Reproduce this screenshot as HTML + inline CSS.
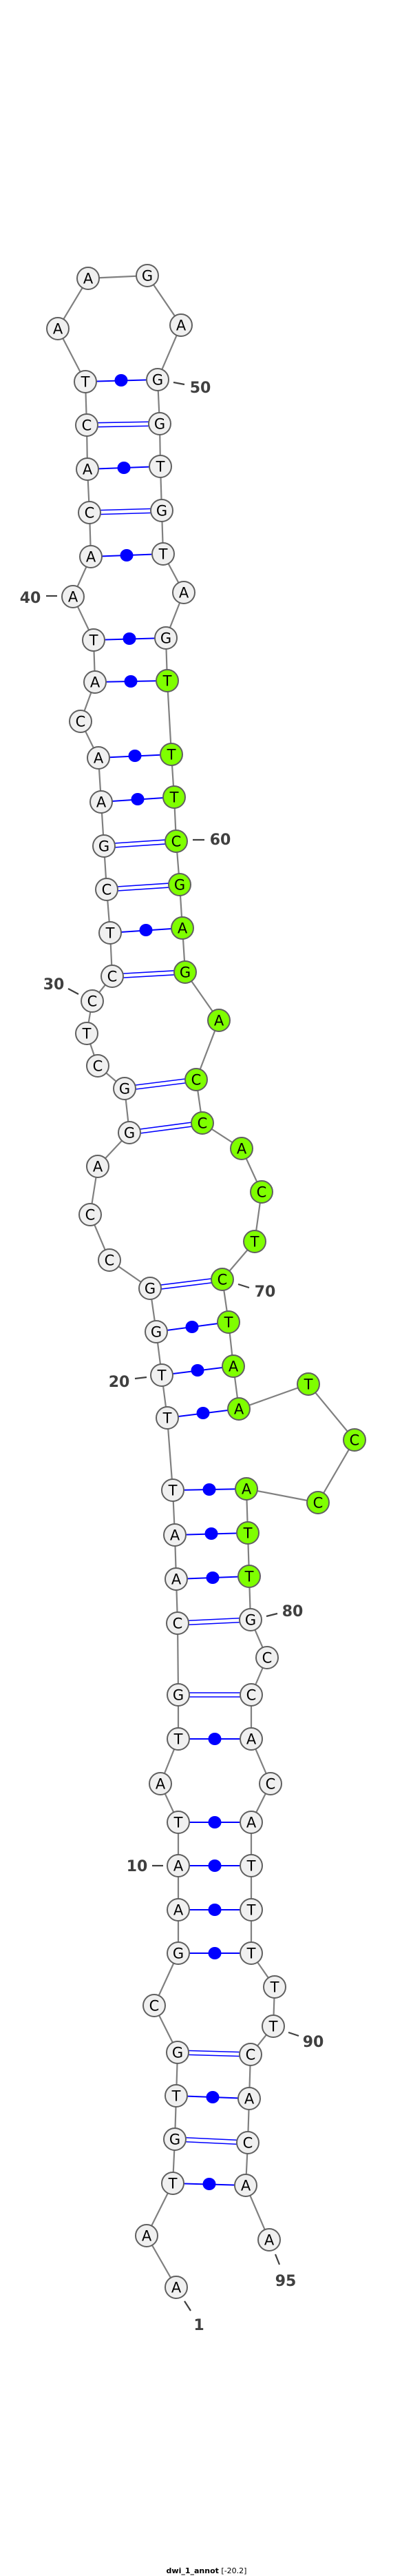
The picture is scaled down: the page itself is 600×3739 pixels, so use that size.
<!DOCTYPE html>
<html><head><meta charset="utf-8"><style>
html,body{margin:0;padding:0;background:#fff}
svg{display:block}
.n text{font-family:"DejaVu Sans","Liberation Sans",sans-serif;font-size:21px;text-anchor:middle}
.lb{font-family:"DejaVu Sans","Liberation Sans",sans-serif;font-size:22px;font-weight:bold;fill:#404040;text-anchor:middle}
</style></head><body>
<svg width="600" height="3739" viewBox="0 0 600 3739" xmlns="http://www.w3.org/2000/svg">
<polyline fill="none" stroke="#808080" stroke-width="2.2" points="256,3320 213,3245 251,3169 254,3105 256,3042 258,2979 224,2911 259,2835 259,2772 259,2708 259,2645 233,2589 259,2524 259,2460 258,2356 256,2292 254,2228 251,2163 243,2058 235,1996 227,1933 218,1870 159,1829 131,1763 142,1693 188,1644 181,1580 142,1547 126,1500 134,1453 163,1417 160,1354 155,1291 151,1228 147,1164 143,1100 117,1047 138,990 136,929 106,866 132,808 130,744 127,681 126,617 124,554 84,477 128,404 214,400 263,472 229,551 232,615 233,677 235,741 237,804 267,860 241,926 243,988 249,1095 253,1157 256,1221 261,1284 265,1347 269,1411 318,1481 285,1567 294,1630 351,1667 380,1730 370,1802 323,1857 332,1919 339,1983 347,2045 448,2009 515,2090 462,2181 358,2161 360,2225 362,2288 364,2351 388,2406 365,2460 365,2524 393,2589 365,2645 365,2708 365,2772 365,2835 399,2884 397,2941 364,2982 362,3046 360,3110 357,3172 391,3251"/>
<g stroke="#0000ff" stroke-width="2">
<line x1="251" y1="3169" x2="357" y2="3172"/><line x1="256" y1="3042" x2="362" y2="3046"/>
<line x1="259" y1="2835" x2="365" y2="2835"/><line x1="259" y1="2772" x2="365" y2="2772"/>
<line x1="259" y1="2708" x2="365" y2="2708"/><line x1="259" y1="2645" x2="365" y2="2645"/>
<line x1="259" y1="2524" x2="365" y2="2524"/><line x1="256" y1="2292" x2="362" y2="2288"/>
<line x1="254" y1="2228" x2="360" y2="2225"/><line x1="251" y1="2163" x2="358" y2="2161"/>
<line x1="243" y1="2058" x2="347" y2="2045"/><line x1="235" y1="1996" x2="339" y2="1983"/>
<line x1="227" y1="1933" x2="332" y2="1919"/><line x1="160" y1="1354" x2="265" y2="1347"/>
<line x1="147" y1="1164" x2="253" y2="1157"/><line x1="143" y1="1100" x2="249" y2="1095"/>
<line x1="138" y1="990" x2="243" y2="988"/><line x1="136" y1="929" x2="241" y2="926"/>
<line x1="132" y1="808" x2="237" y2="804"/><line x1="127" y1="681" x2="233" y2="677"/>
<line x1="124" y1="554" x2="229" y2="551"/>
</g>
<g id="dbl" stroke="#0000ff" stroke-width="1.6" transform="translate(0,-3)">
<line x1="254" y1="3105" x2="360" y2="3110"/><line x1="258" y1="2979" x2="364" y2="2982"/>
<line x1="259" y1="2460" x2="365" y2="2460"/><line x1="258" y1="2356" x2="364" y2="2351"/>
<line x1="218" y1="1870" x2="323" y2="1857"/><line x1="188" y1="1644" x2="294" y2="1630"/>
<line x1="181" y1="1580" x2="285" y2="1567"/><line x1="163" y1="1417" x2="269" y2="1411"/>
<line x1="155" y1="1291" x2="261" y2="1284"/><line x1="151" y1="1228" x2="256" y2="1221"/>
<line x1="130" y1="744" x2="235" y2="741"/><line x1="126" y1="617" x2="232" y2="615"/>
</g>
<use href="#dbl" y="6"/>
<g fill="#0000ff">
<ellipse cx="304" cy="3170" rx="9.5" ry="9"/><ellipse cx="309" cy="3044" rx="9.5" ry="9"/>
<ellipse cx="312" cy="2835" rx="9.5" ry="9"/><ellipse cx="312" cy="2772" rx="9.5" ry="9"/>
<ellipse cx="312" cy="2708" rx="9.5" ry="9"/><ellipse cx="312" cy="2645" rx="9.5" ry="9"/>
<ellipse cx="312" cy="2524" rx="9.5" ry="9"/><ellipse cx="309" cy="2290" rx="9.5" ry="9"/>
<ellipse cx="307" cy="2226" rx="9.5" ry="9"/><ellipse cx="304" cy="2162" rx="9.5" ry="9"/>
<ellipse cx="295" cy="2051" rx="9.5" ry="9"/><ellipse cx="287" cy="1989" rx="9.5" ry="9"/>
<ellipse cx="279" cy="1926" rx="9.5" ry="9"/><ellipse cx="212" cy="1350" rx="9.5" ry="9"/>
<ellipse cx="200" cy="1160" rx="9.5" ry="9"/><ellipse cx="196" cy="1097" rx="9.5" ry="9"/>
<ellipse cx="190" cy="989" rx="9.5" ry="9"/><ellipse cx="188" cy="927" rx="9.5" ry="9"/>
<ellipse cx="184" cy="806" rx="9.5" ry="9"/><ellipse cx="180" cy="679" rx="9.5" ry="9"/>
<ellipse cx="176" cy="552" rx="9.5" ry="9"/>
</g>
<g stroke="#404040" stroke-width="2.2">
<line x1="268" y1="3340" x2="277" y2="3354"/><line x1="400" y1="3272" x2="406" y2="3287"/>
<line x1="419" y1="2950" x2="434" y2="2955"/><line x1="221" y1="2708" x2="237" y2="2708"/>
<line x1="387" y1="2346" x2="403" y2="2342"/><line x1="196" y1="2001" x2="213" y2="1999"/>
<line x1="346" y1="1864" x2="362" y2="1869"/><line x1="99" y1="1435" x2="114" y2="1443"/>
<line x1="280" y1="1219" x2="297" y2="1219"/><line x1="67" y1="865" x2="83" y2="865"/>
<line x1="252" y1="555" x2="268" y2="558"/>
</g>
<g class="lb">
<text x="289" y="3382">1</text><text x="415" y="3318">95</text><text x="455" y="2971">90</text>
<text x="199" y="2716">10</text><text x="425" y="2346">80</text><text x="173" y="2013">20</text>
<text x="385" y="1882">70</text><text x="78" y="1436">30</text><text x="320" y="1226">60</text>
<text x="44" y="875">40</text><text x="291" y="570">50</text>
</g>
<g class="n" stroke="#606060" stroke-width="2">
<g fill="#f0f0f0">
<circle cx="256" cy="3320" r="16"/><circle cx="213" cy="3245" r="16"/><circle cx="251" cy="3169" r="16"/><circle cx="254" cy="3105" r="16"/><circle cx="256" cy="3042" r="16"/><circle cx="258" cy="2979" r="16"/><circle cx="224" cy="2911" r="16"/><circle cx="259" cy="2835" r="16"/><circle cx="259" cy="2772" r="16"/><circle cx="259" cy="2708" r="16"/><circle cx="259" cy="2645" r="16"/><circle cx="233" cy="2589" r="16"/><circle cx="259" cy="2524" r="16"/><circle cx="259" cy="2460" r="16"/><circle cx="258" cy="2356" r="16"/><circle cx="256" cy="2292" r="16"/><circle cx="254" cy="2228" r="16"/><circle cx="251" cy="2163" r="16"/><circle cx="243" cy="2058" r="16"/><circle cx="235" cy="1996" r="16"/><circle cx="227" cy="1933" r="16"/><circle cx="218" cy="1870" r="16"/><circle cx="159" cy="1829" r="16"/><circle cx="131" cy="1763" r="16"/><circle cx="142" cy="1693" r="16"/><circle cx="188" cy="1644" r="16"/><circle cx="181" cy="1580" r="16"/><circle cx="142" cy="1547" r="16"/><circle cx="126" cy="1500" r="16"/><circle cx="134" cy="1453" r="16"/><circle cx="163" cy="1417" r="16"/><circle cx="160" cy="1354" r="16"/><circle cx="155" cy="1291" r="16"/><circle cx="151" cy="1228" r="16"/><circle cx="147" cy="1164" r="16"/><circle cx="143" cy="1100" r="16"/><circle cx="117" cy="1047" r="16"/><circle cx="138" cy="990" r="16"/><circle cx="136" cy="929" r="16"/><circle cx="106" cy="866" r="16"/><circle cx="132" cy="808" r="16"/><circle cx="130" cy="744" r="16"/><circle cx="127" cy="681" r="16"/><circle cx="126" cy="617" r="16"/><circle cx="124" cy="554" r="16"/><circle cx="84" cy="477" r="16"/><circle cx="128" cy="404" r="16"/><circle cx="214" cy="400" r="16"/><circle cx="263" cy="472" r="16"/><circle cx="229" cy="551" r="16"/><circle cx="232" cy="615" r="16"/><circle cx="233" cy="677" r="16"/><circle cx="235" cy="741" r="16"/><circle cx="237" cy="804" r="16"/><circle cx="267" cy="860" r="16"/><circle cx="241" cy="926" r="16"/>
<circle cx="364" cy="2351" r="16"/><circle cx="388" cy="2406" r="16"/><circle cx="365" cy="2460" r="16"/><circle cx="365" cy="2524" r="16"/><circle cx="393" cy="2589" r="16"/><circle cx="365" cy="2645" r="16"/><circle cx="365" cy="2708" r="16"/><circle cx="365" cy="2772" r="16"/><circle cx="365" cy="2835" r="16"/><circle cx="399" cy="2884" r="16"/><circle cx="397" cy="2941" r="16"/><circle cx="364" cy="2982" r="16"/><circle cx="362" cy="3046" r="16"/><circle cx="360" cy="3110" r="16"/><circle cx="357" cy="3172" r="16"/><circle cx="391" cy="3251" r="16"/>
</g>
<g fill="#7fff00">
<circle cx="243" cy="988" r="16"/><circle cx="249" cy="1095" r="16"/><circle cx="253" cy="1157" r="16"/><circle cx="256" cy="1221" r="16"/><circle cx="261" cy="1284" r="16"/><circle cx="265" cy="1347" r="16"/><circle cx="269" cy="1411" r="16"/><circle cx="318" cy="1481" r="16"/><circle cx="285" cy="1567" r="16"/><circle cx="294" cy="1630" r="16"/><circle cx="351" cy="1667" r="16"/><circle cx="380" cy="1730" r="16"/><circle cx="370" cy="1802" r="16"/><circle cx="323" cy="1857" r="16"/><circle cx="332" cy="1919" r="16"/><circle cx="339" cy="1983" r="16"/><circle cx="347" cy="2045" r="16"/><circle cx="448" cy="2009" r="16"/><circle cx="515" cy="2090" r="16"/><circle cx="462" cy="2181" r="16"/><circle cx="358" cy="2161" r="16"/><circle cx="360" cy="2225" r="16"/><circle cx="362" cy="2288" r="16"/>
</g>
<g fill="#000" stroke="none" transform="translate(0,7.5)">
<text x="256" y="3320">A</text><text x="213" y="3245">A</text><text x="251" y="3169">T</text><text x="254" y="3105">G</text><text x="256" y="3042">T</text><text x="258" y="2979">G</text><text x="224" y="2911">C</text><text x="259" y="2835">G</text><text x="259" y="2772">A</text><text x="259" y="2708">A</text><text x="259" y="2645">T</text><text x="233" y="2589">A</text><text x="259" y="2524">T</text><text x="259" y="2460">G</text><text x="258" y="2356">C</text><text x="256" y="2292">A</text><text x="254" y="2228">A</text><text x="251" y="2163">T</text><text x="243" y="2058">T</text><text x="235" y="1996">T</text><text x="227" y="1933">G</text><text x="218" y="1870">G</text><text x="159" y="1829">C</text><text x="131" y="1763">C</text><text x="142" y="1693">A</text><text x="188" y="1644">G</text><text x="181" y="1580">G</text><text x="142" y="1547">C</text><text x="126" y="1500">T</text><text x="134" y="1453">C</text><text x="163" y="1417">C</text><text x="160" y="1354">T</text><text x="155" y="1291">C</text><text x="151" y="1228">G</text><text x="147" y="1164">A</text><text x="143" y="1100">A</text><text x="117" y="1047">C</text><text x="138" y="990">A</text><text x="136" y="929">T</text><text x="106" y="866">A</text><text x="132" y="808">A</text><text x="130" y="744">C</text><text x="127" y="681">A</text><text x="126" y="617">C</text><text x="124" y="554">T</text><text x="84" y="477">A</text><text x="128" y="404">A</text><text x="214" y="400">G</text><text x="263" y="472">A</text><text x="229" y="551">G</text><text x="232" y="615">G</text><text x="233" y="677">T</text><text x="235" y="741">G</text><text x="237" y="804">T</text><text x="267" y="860">A</text><text x="241" y="926">G</text>
<text x="243" y="988">T</text><text x="249" y="1095">T</text><text x="253" y="1157">T</text><text x="256" y="1221">C</text><text x="261" y="1284">G</text><text x="265" y="1347">A</text><text x="269" y="1411">G</text><text x="318" y="1481">A</text><text x="285" y="1567">C</text><text x="294" y="1630">C</text><text x="351" y="1667">A</text><text x="380" y="1730">C</text><text x="370" y="1802">T</text><text x="323" y="1857">C</text><text x="332" y="1919">T</text><text x="339" y="1983">A</text><text x="347" y="2045">A</text><text x="448" y="2009">T</text><text x="515" y="2090">C</text><text x="462" y="2181">C</text><text x="358" y="2161">A</text><text x="360" y="2225">T</text><text x="362" y="2288">T</text>
<text x="364" y="2351">G</text><text x="388" y="2406">C</text><text x="365" y="2460">C</text><text x="365" y="2524">A</text><text x="393" y="2589">C</text><text x="365" y="2645">A</text><text x="365" y="2708">T</text><text x="365" y="2772">T</text><text x="365" y="2835">T</text><text x="399" y="2884">T</text><text x="397" y="2941">T</text><text x="364" y="2982">C</text><text x="362" y="3046">A</text><text x="360" y="3110">C</text><text x="357" y="3172">A</text><text x="391" y="3251">A</text>
</g>
</g>
<text x="300" y="3735" font-family="DejaVu Sans, Liberation Sans, sans-serif" font-size="11" text-anchor="middle" fill="#000"><tspan font-weight="bold">dwi_1_annot</tspan> [-20.2]</text>
</svg>
</body></html>
